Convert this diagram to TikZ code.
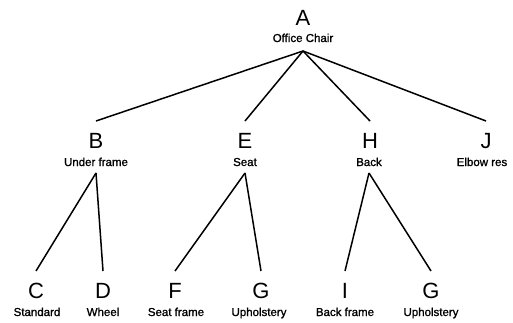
\documentclass[tikz,border=0pt]{standalone}
\usepackage{fontspec}
\setmainfont{Liberation Sans}
\newfontfamily\captionfont[BoldFont=Liberation Sans, BoldFeatures={FakeBold=1.2}]{Liberation Sans}
\begin{document}
\begin{tikzpicture}[x=1pt, y=-1pt,
  part/.style={font=\fontsize{22}{24}\selectfont, inner sep=0pt, outer ysep=11pt, text height=16pt, text depth=0pt},
  partname/.style={font=\captionfont\bfseries\fontsize{11.5}{13}\selectfont, inner sep=0pt, outer ysep=5pt, text height=8pt, text depth=2pt},
  link/.style={line width=1.5pt}]
\useasboundingbox (0,0) rectangle (513,322);
% top level
\node[part] (A) at (303,17) {A};
\node[partname, outer ysep=7pt] (nA) at (303,39) {Office Chair};
% sub-assemblies
\node[part] (B) at (96,140) {B};
\node[partname] (nB) at (96,163) {Under frame};
\node[part] (E) at (245,140) {E};
\node[partname] (nE) at (245,163) {Seat};
\node[part] (H) at (370,140) {H};
\node[partname] (nH) at (369,163) {Back};
\node[part] (J) at (486,140) {J};
\node[partname] (nJ) at (482,163) {Elbow res};
% parts
\node[part] (C) at (36,290) {C};
\node[partname] (nC) at (37,313) {Standard};
\node[part] (D) at (103,290) {D};
\node[partname] (nD) at (103,313) {Wheel};
\node[part] (F) at (175,290) {F};
\node[partname] (nF) at (176,313) {Seat frame};
\node[part] (G1) at (261,290) {G};
\node[partname] (nG1) at (259,313) {Upholstery};
\node[part] (I) at (345,290) {I};
\node[partname] (nI) at (345,313) {Back frame};
\node[part] (G2) at (431,290) {G};
\node[partname] (nG2) at (431,313) {Upholstery};
% tree links
\foreach \p/\c in {nA/B, nA/E, nA/H, nA/J, nB/C, nB/D, nE/F, nE/G1, nH/I, nH/G2}
  \draw[link] (\p.south) -- (\c.north);
\end{tikzpicture}
\end{document}
